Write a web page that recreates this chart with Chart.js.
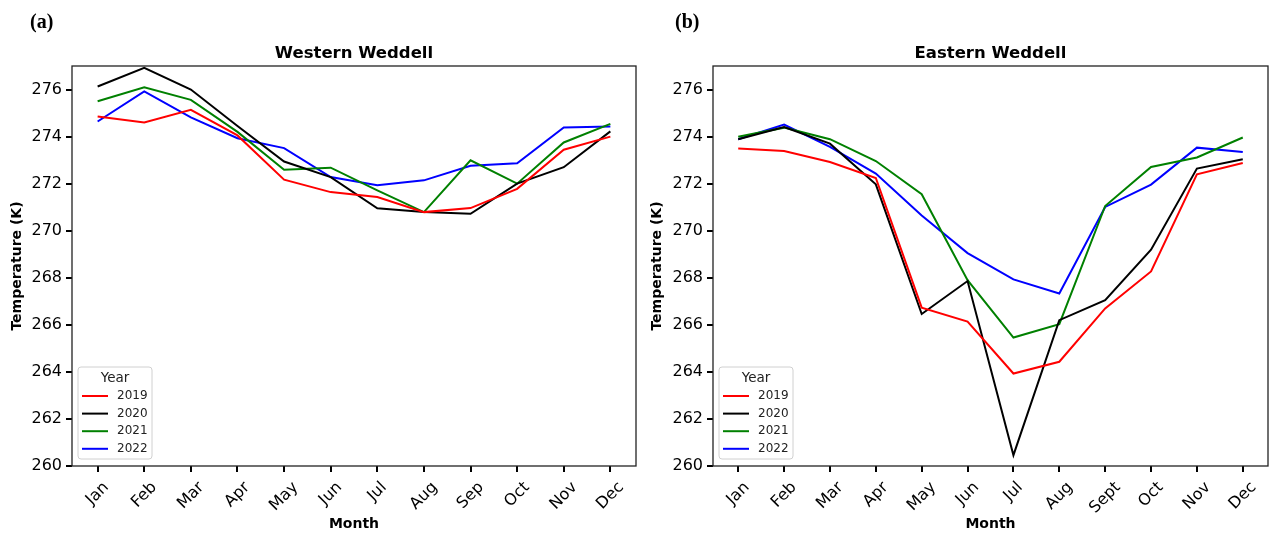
<!DOCTYPE html>
<html>
<head>
<meta charset="utf-8">
<script src="https://cdn.jsdelivr.net/npm/chart.js@4.4.1/dist/chart.umd.min.js"></script>
<style>
  html, body { margin:0; padding:0; background:#fff; }
  #wrap { position:relative; width:1279px; height:534px; overflow:hidden; }
  canvas { position:absolute; top:0; }
  .tag { position:absolute; top:10px; font:bold 20px "Liberation Serif", serif; color:#000; }
</style>
</head>
<body>
<div id="wrap">
  <canvas id="west" width="640" height="534" style="left:0"></canvas>
  <canvas id="east" width="639" height="534" style="left:640px"></canvas>
  <div class="tag" style="left:30px">(a)</div>
  <div class="tag" style="left:675px">(b)</div>
</div>
<script>
// --- data ---
const monthsWest = ['Jan','Feb','Mar','Apr','May','Jun','Jul','Aug','Sep','Oct','Nov','Dec'];
const monthsEast = ['Jan','Feb','Mar','Apr','May','Jun','Jul','Aug','Sept','Oct','Nov','Dec'];
const years = ['2019','2020','2021','2022'];
const yearColors = ['#ff0000','#000000','#008000','#0000ff'];
const yTicks = [260,262,264,266,268,270,272,274,276];

const west2019 = [274.85,274.60,275.14,274.05,272.17,271.64,271.43,270.79,270.96,271.78,273.44,274.00];
const west2020 = [276.13,276.92,276.00,274.45,272.94,272.28,270.95,270.79,270.72,272.00,272.70,274.22];
const west2021 = [275.50,276.10,275.56,274.20,272.59,272.68,271.71,270.79,272.99,272.00,273.75,274.54];
const west2022 = [274.64,275.92,274.82,273.93,273.51,272.28,271.93,272.14,272.76,272.87,274.39,274.43];

const east2019 = [273.49,273.39,272.92,272.24,266.73,266.14,263.93,264.43,266.70,268.27,272.40,272.88];
const east2020 = [273.89,274.41,273.70,271.97,266.46,267.86,260.46,266.20,267.05,269.19,272.64,273.04];
const east2021 = [273.99,274.38,273.89,272.96,271.55,267.90,265.46,266.03,271.05,272.71,273.11,273.96];
const east2022 = [273.89,274.51,273.56,272.43,270.65,269.05,267.93,267.33,271.01,271.96,273.53,273.35];

// frame all four sides like matplotlib
const framePlugin = {
  id:'frame',
  afterDraw(chart){
    const a = chart.chartArea, c = chart.ctx;
    c.save();
    c.strokeStyle = '#222';
    c.lineWidth = 1.3;
    c.strokeRect(a.left, a.top, a.right-a.left, a.bottom-a.top);
    c.restore();
  }
};

// rotated month labels, centred on the tick (matplotlib style)
const monthLabelPlugin = {
  id:'monthLabels',
  afterDraw(chart, args, opts){
    const c = chart.ctx, xs = chart.scales.x;
    c.save();
    c.font = '16px "DejaVu Sans"';
    c.fillStyle = '#000';
    c.textAlign = 'center';
    c.textBaseline = 'middle';
    const top = chart.chartArea.bottom + 14;
    opts.labels.forEach((lab,i)=>{
      const px = xs.getPixelForValue(i);
      const w = c.measureText(lab).width, h = 14;
      const cy = top + (w + h) * Math.SQRT1_2 / 2;
      c.save();
      c.translate(px, cy);
      c.rotate(-Math.PI/4);
      c.fillText(lab, 0, 0);
      c.restore();
    });
    c.restore();
  }
};

// legend box inside lower-left corner
const yearLegendPlugin = {
  id:'yearLegend',
  afterDraw(chart){
    const c = chart.ctx, a = chart.chartArea;
    const bx = a.left + 6, bw = 74, bh = 92, by = a.bottom - 7 - bh;
    c.save();
    c.fillStyle = 'rgba(255,255,255,0.8)';
    c.strokeStyle = '#d0d0d0';
    c.lineWidth = 1;
    c.beginPath();
    c.roundRect(bx, by, bw, bh, 3);
    c.fill(); c.stroke();
    c.fillStyle = '#222';
    c.textBaseline = 'middle';
    c.textAlign = 'center';
    c.font = '13.5px "DejaVu Sans"';
    c.fillText('Year', bx + bw/2, by + 11);
    c.textAlign = 'left';
    c.font = '12px "DejaVu Sans"';
    years.forEach((yr,i)=>{
      const ry = by + 29 + i*17.6;
      c.strokeStyle = yearColors[i];
      c.lineWidth = 2;
      c.beginPath();
      c.moveTo(bx + 4, ry); c.lineTo(bx + 30, ry);
      c.stroke();
      c.fillText(yr, bx + 39, ry);
    });
    c.restore();
  }
};

function makeChart(id, title, labels, series, yWidth, padRight){
  return new Chart(document.getElementById(id), {
    type:'line',
    data:{
      datasets: series.map((vals,i)=>({
        label: years[i],
        data: vals.map((v,k)=>({x:k, y:v})),
        borderColor: yearColors[i],
        borderWidth: 2,
        pointRadius: 0,
        tension: 0,
        fill: false
      }))
    },
    options:{
      responsive:false,
      animation:false,
      devicePixelRatio:1,
      layout:{padding:{left:0, right:padRight, top:0, bottom:0}},
      plugins:{
        legend:{display:false},
        tooltip:{enabled:false},
        title:{
          display:true, text:title, color:'#000', fullSize:false,
          font:{family:'DejaVu Sans', size:16.5, weight:'bold', lineHeight:'20px'},
          padding:{top:44, bottom:2}
        },
        monthLabels:{labels}
      },
      scales:{
        x:{
          type:'linear', min:-0.55, max:11.55,
          afterBuildTicks(s){ s.ticks = labels.map((_,i)=>({value:i})); },
          afterFit(s){ s.height = 68; },
          ticks:{display:false},
          border:{display:false},
          grid:{drawOnChartArea:false, drawTicks:true, tickLength:6, tickColor:'#000', tickWidth:2, color:'#000', lineWidth:2},
          title:{display:true, text:'Month', color:'#000', font:{family:'DejaVu Sans', size:14, weight:'bold'}, padding:{top:0, bottom:1}}
        },
        y:{
          min:260, max:277,
          afterBuildTicks(s){ s.ticks = yTicks.map(v=>({value:v})); },
          afterFit(s){ s.width = yWidth; },
          border:{display:false},
          ticks:{color:'#000', padding:4, font:{family:'DejaVu Sans', size:16}},
          grid:{drawOnChartArea:false, drawTicks:true, tickLength:6, tickColor:'#000', tickWidth:2, color:'#000', lineWidth:2},
          title:{display:true, text:'Temperature (K)', color:'#000', font:{family:'DejaVu Sans', size:14, weight:'bold'}, padding:{top:9, bottom:0}}
        }
      }
    },
    plugins:[framePlugin, monthLabelPlugin, yearLegendPlugin]
  });
}

makeChart('west', 'Western Weddell', monthsWest, [west2019, west2020, west2021, west2022], 72, 4);
makeChart('east', 'Eastern Weddell', monthsEast, [east2019, east2020, east2021, east2022], 73, 11);
</script>
</body>
</html>
